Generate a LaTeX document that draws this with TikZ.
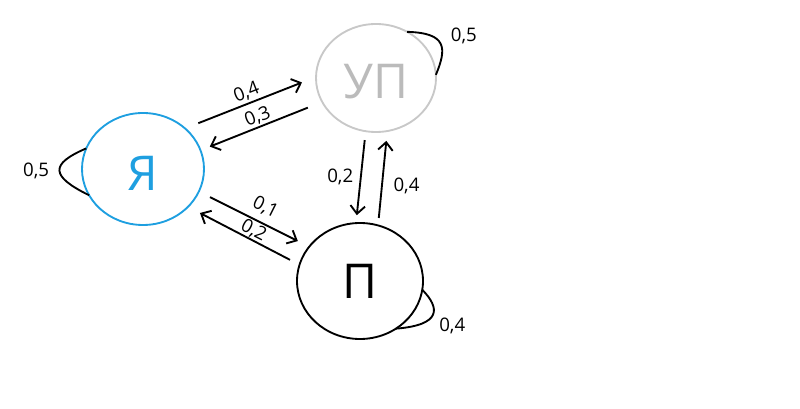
\documentclass[tikz,border=0pt]{standalone}
\usepackage{fontspec}
\setmainfont{Open Sans}
\usetikzlibrary{arrows.meta,shapes.geometric}
\definecolor{cYa}{HTML}{1E9FE0}
\definecolor{cUp}{HTML}{C8C8C8}
\definecolor{cUpText}{HTML}{BBBBBB}
\tikzset{
  state/.style={ellipse, draw=#1, line width=1.4pt, inner sep=0pt, outer sep=0pt,
                font=\fontsize{36}{40}\selectfont},
  flow/.style={-{Straight Barb[length=6pt,width=11pt]}, line width=1.4pt},
  selfloop/.style={line width=1.4pt},
  lbl/.style={font=\fontsize{14}{16}\selectfont, inner sep=0pt},
}

\begin{document}
\begin{tikzpicture}[x=0.75pt,y=-0.75pt]
  \useasboundingbox (0,0) rectangle (800,409);
  \node[state=cYa, text=cYa, text height=33pt, minimum width=91.5pt, minimum height=84pt] (ya) at (143,169) {Я};
  \node[state=cUp, text=cUpText, text height=31.5pt, minimum width=90pt, minimum height=81pt] (up) at (376,78) {УП};
  \node[state=black, minimum width=94.5pt, minimum height=87pt] (p) at (360,281) {П};
  % self loops
  \draw[selfloop] (ya.160) .. controls (50,164) and (50,176) .. node[lbl, left=7pt]{0,5} (ya.206);
  \draw[selfloop] (up.56) .. controls (447,33) and (447,48) .. node[lbl, right=7pt, yshift=6pt]{0,5} (up.3);
  \draw[selfloop] (p.352) .. controls (440,308) and (442,325) .. node[lbl, below right, xshift=4pt, yshift=-2pt]{0,4} (p.307);
  % transitions
  \draw[flow, shorten <=10.7pt, shorten >=11.3pt] (ya.44) -- node[lbl, sloped, above=1.5pt]{0,4} (up.179);
  \draw[flow, shorten <=11.6pt, shorten >=7.5pt] (up.204) -- node[lbl, sloped, above=0.8pt]{0,3} (ya.18);
  \draw[flow, shorten <=9.4pt, shorten >=9.5pt] (ya.338) -- node[lbl, sloped, above=5pt, pos=0.54]{0,1} (p.146);
  \draw[flow, shorten <=8pt, shorten >=10.1pt] (p.165) -- node[lbl, sloped, above=0.5pt, pos=0.45]{0,2} (ya.320);
  \draw[flow, shorten <=6.7pt, shorten >=6pt] (up.259) -- node[lbl, left=5pt]{0,2} (p.94);
  \draw[flow, shorten <=5.6pt, shorten >=7.4pt] (p.72) -- node[lbl, right=8pt, pos=0.42]{0,4} (up.282);
\end{tikzpicture}
\end{document}
